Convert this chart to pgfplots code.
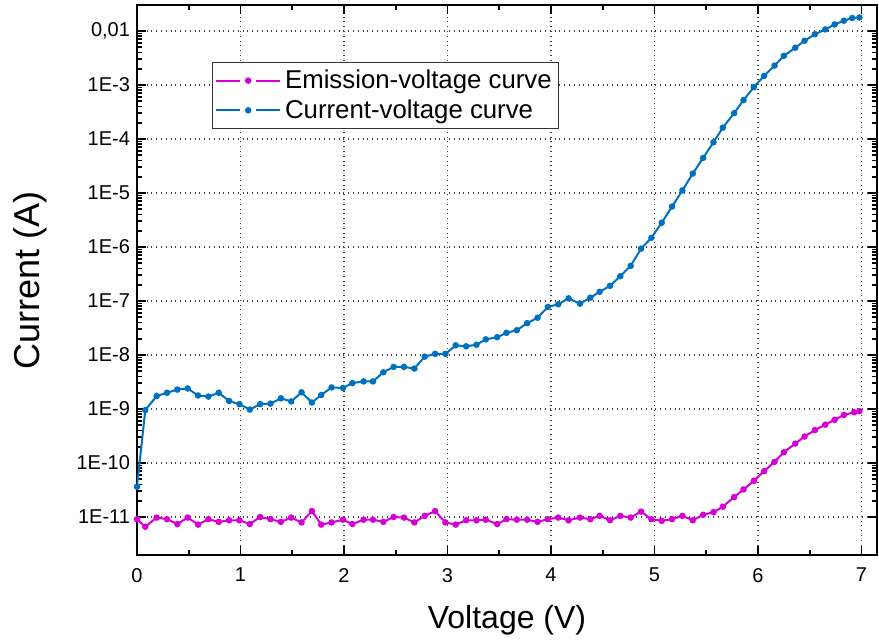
\documentclass[border=0pt]{standalone}
\usepackage{fontspec}
\setmainfont{Liberation Sans}
\usepackage{pgfplots}
\pgfplotsset{compat=1.18}
\definecolor{IVBlue}{RGB}{0,112,192}
\definecolor{EVMag}{RGB}{214,0,214}

\begin{document}
\begin{tikzpicture}
\begin{axis}[
    at={(0,0)}, anchor=south west,
    scale only axis,
    width=370pt, height=275pt,
    xmin=0, xmax=7.15,
    ymode=log,
    ymin=1.98e-12, ymax=0.0303,
    xtick={0,1,...,7},
    minor x tick num=1,
    ytick={1e-11,1e-10,1e-9,1e-8,1e-7,1e-6,1e-5,1e-4,1e-3,1e-2},
    yticklabels={1E-11,1E-10,1E-9,1E-8,1E-7,1E-6,1E-5,1E-4,1E-3,{0,01}},
    tick align=inside,
    major tick length=4.5pt,
    minor tick length=2.5pt,
    every tick/.style={black, line width=0.9pt},
    axis line style={line width=1.1pt},
    grid=major,
    major grid style={dotted, line width=0.6pt, black!75},
    tick label style={font=\fontsize{10}{12}\selectfont},
    /pgf/number format/assume math mode=true,
    xticklabel style={yshift=-3pt},
    xlabel={Voltage (V)},
    ylabel={Current (A)},
    x label style={font=\fontsize{16}{19}\selectfont,
        at={(axis description cs:0.5,-0.118)}, anchor=center},
    y label style={font=\fontsize{18}{21}\selectfont,
        at={(axis description cs:-0.1446,0.5)}, anchor=center},
    legend style={at={(0.101,0.896)}, anchor=north west,
        font=\fontsize{12.9}{15}\selectfont, draw=black!80, line width=0.6pt,
        inner sep=1.5pt, row sep=0pt, cells={anchor=west}},
    legend image code/.code={
        \draw[#1,mark=none] (0cm,0cm) -- (0.42cm,0cm);
        \draw[#1,mark=none] (0.7cm,0cm) -- (1.12cm,0cm);
        \draw[#1,only marks] plot coordinates {(0.56cm,0cm)};
    },
]
\addplot[color=EVMag, line width=1pt, mark=*, mark size=1.1pt] coordinates {
(0.00,9.12e-12) (0.08,6.61e-12) (0.19,9.77e-12) (0.29,9.12e-12) (0.39,7.41e-12)
(0.49,9.77e-12) (0.59,7.24e-12) (0.69,9.12e-12) (0.79,8.13e-12) (0.89,8.71e-12)
(0.99,8.71e-12) (1.09,7.41e-12) (1.19,1.00e-11) (1.29,9.12e-12) (1.39,8.13e-12)
(1.49,9.77e-12) (1.59,7.94e-12) (1.69,1.29e-11) (1.78,7.24e-12) (1.88,7.94e-12)
(1.99,8.91e-12) (2.08,7.41e-12) (2.19,8.91e-12) (2.28,8.91e-12) (2.38,8.13e-12)
(2.48,1.00e-11) (2.58,9.77e-12) (2.68,7.94e-12) (2.78,1.05e-11) (2.88,1.29e-11)
(2.98,7.94e-12) (3.08,7.24e-12) (3.18,8.71e-12) (3.28,8.71e-12) (3.37,8.91e-12)
(3.48,7.41e-12) (3.57,9.12e-12) (3.67,8.91e-12) (3.77,8.91e-12) (3.87,8.13e-12)
(3.97,9.12e-12) (4.07,9.77e-12) (4.17,8.71e-12) (4.28,9.77e-12) (4.38,9.12e-12)
(4.47,1.05e-11) (4.57,8.71e-12) (4.67,1.05e-11) (4.77,9.77e-12) (4.87,1.26e-11)
(4.97,9.12e-12) (5.07,8.51e-12) (5.17,9.12e-12) (5.27,1.05e-11) (5.37,8.71e-12)
(5.47,1.10e-11) (5.57,1.23e-11) (5.66,1.55e-11) (5.77,2.34e-11) (5.86,3.24e-11)
(5.96,4.68e-11) (6.06,7.08e-11) (6.16,1.05e-10) (6.25,1.58e-10) (6.36,2.29e-10)
(6.45,3.09e-10) (6.55,4.07e-10) (6.65,5.13e-10) (6.74,6.31e-10) (6.83,7.76e-10)
(6.93,8.71e-10) (6.98,9.12e-10)
};
\addlegendentry{Emission-voltage curve}
\addplot[color=IVBlue, line width=1pt, mark=*, mark size=1.1pt] coordinates {
(0.00,3.63e-11) (0.08,9.55e-10) (0.19,1.74e-9) (0.29,2.00e-9) (0.39,2.29e-9)
(0.49,2.40e-9) (0.59,1.78e-9) (0.69,1.70e-9) (0.79,2.00e-9) (0.89,1.41e-9)
(0.99,1.23e-9) (1.09,9.77e-10) (1.19,1.23e-9) (1.29,1.26e-9) (1.39,1.58e-9)
(1.49,1.38e-9) (1.59,2.04e-9) (1.69,1.32e-9) (1.78,1.82e-9) (1.88,2.51e-9)
(1.99,2.45e-9) (2.08,3.02e-9) (2.19,3.24e-9) (2.28,3.24e-9) (2.38,4.79e-9)
(2.48,6.03e-9) (2.58,6.03e-9) (2.68,5.62e-9) (2.78,9.33e-9) (2.88,1.05e-8)
(2.98,1.05e-8) (3.08,1.51e-8) (3.18,1.45e-8) (3.28,1.55e-8) (3.37,1.95e-8)
(3.48,2.14e-8) (3.57,2.57e-8) (3.67,2.88e-8) (3.77,3.89e-8) (3.87,4.90e-8)
(3.97,7.76e-8) (4.07,8.71e-8) (4.17,1.12e-7) (4.28,8.91e-8) (4.38,1.15e-7)
(4.47,1.48e-7) (4.57,1.91e-7) (4.67,2.88e-7) (4.77,4.47e-7) (4.87,9.33e-7)
(4.97,1.48e-6) (5.07,2.82e-6) (5.17,5.62e-6) (5.27,1.12e-5) (5.37,2.29e-5)
(5.47,4.47e-5) (5.57,8.71e-5) (5.66,1.62e-4) (5.77,3.02e-4) (5.86,5.25e-4)
(5.96,9.12e-4) (6.06,1.48e-3) (6.16,2.29e-3) (6.25,3.47e-3) (6.36,4.90e-3)
(6.45,6.61e-3) (6.55,8.71e-3) (6.65,1.07e-2) (6.74,1.32e-2) (6.83,1.55e-2)
(6.91,1.74e-2) (6.98,1.78e-2)
};
\addlegendentry{Current-voltage curve}
\end{axis}
\pgfresetboundingbox
\path[use as bounding box] (-68.5pt,-44pt) rectangle (371pt,277.5pt);
\end{tikzpicture}
\end{document}
